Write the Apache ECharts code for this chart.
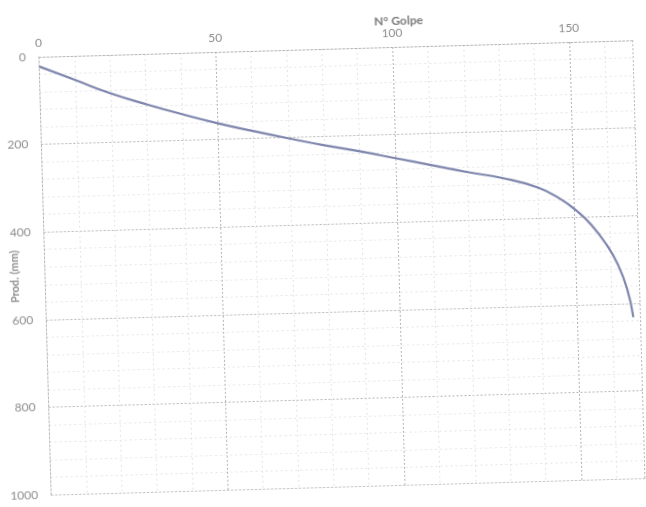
<!DOCTYPE html>
<html>
<head>
<meta charset="utf-8">
<script src="https://cdn.jsdelivr.net/npm/echarts@6/dist/echarts.min.js"></script>
<style>
  html, body { margin: 0; padding: 0; background: #ffffff; overflow: hidden; }
  #chart { width: 646px; height: 507px; transform: rotate(-1.6deg); transform-origin: 323px 253px; }
</style>
</head>
<body>
<div id="chart"></div>
<script>
// Penetration log: blow count vs. depth
const golpes = [0, 10, 20, 30, 40, 50, 60, 70, 80, 90, 100, 110, 120, 130, 140, 146, 151, 155, 159, 162, 164.5, 166];
const prof   = [22, 55, 88, 115, 140, 163, 183, 202, 220, 236, 254, 272, 290, 306, 330, 356, 387, 420, 465, 510, 568, 632];
const xTicks = [0, 50, 100, 150];
const yTicks = [0, 200, 400, 600, 800, 1000];

const points = golpes.map((g, i) => [g, prof[i]]);

const chart = echarts.init(document.getElementById('chart'), null, { renderer: 'canvas' });

const labelStyle = { color: '#8c8c8c', fontFamily: 'Lato', fontSize: 12 };
const majorGrid = { show: true, lineStyle: { color: '#b4b4b4', type: [2, 2], width: 1 } };
const minorGrid = { show: true, lineStyle: { color: '#e4e4e4', type: [2, 3], width: 1 } };

chart.setOption({
  animation: false,
  backgroundColor: '#ffffff',
  title: {
    text: 'N° Golpe',
    left: 400,
    top: 12,
    textAlign: 'center',
    textStyle: { color: '#7a7a7a', fontFamily: 'Lato', fontSize: 12, fontWeight: 'bold' }
  },
  grid: { left: 44.5, top: 49, right: 7.5, bottom: 20, containLabel: false, outerBoundsMode: 'none' },
  xAxis: {
    type: 'value',
    position: 'top',
    min: xTicks[0],
    max: 168,
    interval: 50,
    axisLine: { show: true, lineStyle: { color: '#b4b4b4', type: [2, 2] } },
    axisTick: { show: false },
    axisLabel: Object.assign({ margin: 8, showMaxLabel: false }, labelStyle),
    splitLine: majorGrid,
    minorTick: { show: false, splitNumber: 5 },
    minorSplitLine: minorGrid
  },
  yAxis: {
    type: 'value',
    inverse: true,
    min: yTicks[0],
    max: yTicks[yTicks.length - 1],
    interval: 200,
    name: 'Prod. (mm)',
    nameLocation: 'middle',
    nameGap: 25,
    nameMoveOverlap: false,
    nameTextStyle: { color: '#8a8a8a', fontFamily: 'Lato', fontSize: 11, fontWeight: 'bold' },
    axisLine: { show: true, lineStyle: { color: '#b4b4b4', type: [2, 2] } },
    axisTick: { show: false },
    axisLabel: Object.assign({ margin: 13, formatter: v => String(v) }, labelStyle),
    splitLine: majorGrid,
    minorTick: { show: false, splitNumber: 5 },
    minorSplitLine: minorGrid
  },
  series: [{
    type: 'line',
    data: points,
    smooth: 0.5,
    symbol: 'none',
    lineStyle: { color: '#7f86ad', width: 2.2 }
  }]
});
</script>
</body>
</html>
